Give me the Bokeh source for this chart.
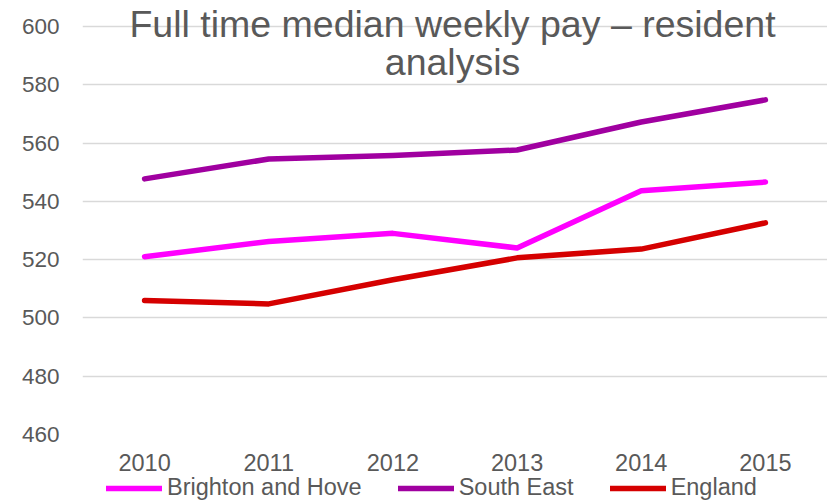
from bokeh.plotting import figure
from bokeh.models import Legend, LegendItem, Label, FixedTicker, Range1d
from bokeh.layouts import column
from bokeh.embed import file_html
from bokeh.resources import INLINE

years = [2010, 2011, 2012, 2013, 2014, 2015]
brighton = [521.0, 526.2, 529.0, 524.0, 543.6, 546.6]
south_east = [547.7, 554.5, 555.7, 557.6, 567.2, 574.8]
england = [506.0, 504.8, 513.1, 520.6, 523.6, 532.6]
y_ticks = [460, 480, 500, 520, 540, 560, 580, 600]
title_lines = ["Full time median weekly pay \u2013 resident", "analysis"]
names = ["Brighton and Hove", "South East", "England"]
colors = ["#FF00FF", "#A000A0", "#D50000"]

FONT = "Liberation Sans"
GREY = "#595959"

# frame extends a little above 600 so the overlaid title is not clipped
p = figure(width=827, height=474, output_backend="svg", toolbar_location=None,
           x_range=Range1d(2009.5, 2015.5), y_range=Range1d(460, 608.2),
           min_border_left=82, min_border_right=0, min_border_top=2, min_border_bottom=40)
p.outline_line_color = None
p.background_fill_color = "white"
p.border_fill_color = "white"

p.xgrid.grid_line_color = None
p.ygrid.grid_line_color = "#D9D9D9"
p.ygrid.grid_line_width = 1.3
p.yaxis.ticker = FixedTicker(ticks=y_ticks)
p.xaxis.ticker = FixedTicker(ticks=years)

for ax in (p.xaxis, p.yaxis):
    ax.axis_line_color = None
    ax.major_tick_line_color = None
    ax.minor_tick_line_color = None
    ax.major_label_text_font = FONT
    ax.major_label_text_color = GREY
p.yaxis.major_label_text_font_size = "22.5px"
p.xaxis.major_label_text_font_size = "23.5px"
p.yaxis.major_label_standoff = 17
p.xaxis.major_label_standoff = 13

series = [brighton, south_east, england]
for vals, c in zip(series, colors):
    p.line(years, vals, line_color=c, line_width=5.5, line_join="round", line_cap="round")

mid = (p.x_range.start + p.x_range.end) / 2 - 0.02
p.add_layout(Label(x=mid, y=600.7, text=title_lines[0], text_align="center",
                   text_baseline="alphabetic", text_font=FONT, text_font_size="37.5px",
                   text_color=GREY))
p.add_layout(Label(x=mid, y=587.7, text=title_lines[1], text_align="center",
                   text_baseline="alphabetic", text_font=FONT, text_font_size="37.5px",
                   text_color=GREY))

# legend strip below the chart (its own series copies lie outside its view)
lg = figure(width=827, height=27, output_backend="svg", toolbar_location=None,
            x_range=Range1d(0, 1), y_range=Range1d(0, 1),
            x_axis_location=None, y_axis_location=None,
            min_border_left=0, min_border_right=0, min_border_top=0, min_border_bottom=0)
lg.outline_line_color = None
lg.xgrid.grid_line_color = None
lg.ygrid.grid_line_color = None
lg.background_fill_color = "white"
items = []
for vals, c, n in zip(series, colors, names):
    r = lg.line(years, vals, line_color=c, line_width=5.5, line_cap="round")
    items.append(LegendItem(label=n, renderers=[r]))
legend = Legend(items=items, orientation="horizontal", location=(24, 0),
                glyph_width=56, glyph_height=22, label_standoff=5, spacing=36,
                padding=0, margin=0, border_line_color=None, background_fill_alpha=0,
                label_text_font=FONT, label_text_font_size="23.5px", label_text_color=GREY)
lg.add_layout(legend, "center")

layout = column(p, lg, spacing=0)
open("out.html", "w").write(file_html(layout, INLINE))
